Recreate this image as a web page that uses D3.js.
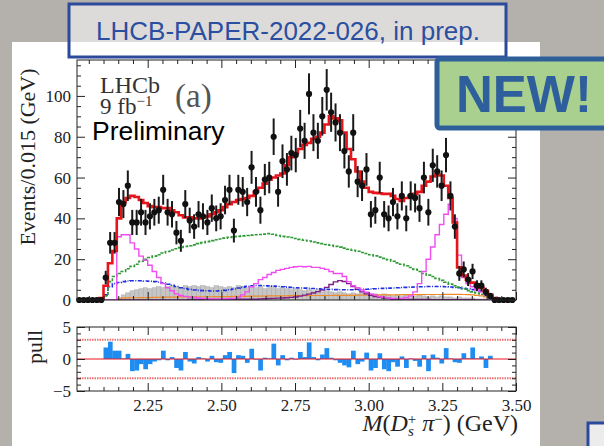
<!DOCTYPE html>
<html>
<head>
<meta charset="utf-8">
<script src="https://cdn.jsdelivr.net/npm/d3@7"></script>
<style>
  body { margin: 0; background: #b4b0ac; }
  svg { display: block; }
</style>
</head>
<body>
<svg id="chart" width="604" height="446"></svg>
<script>
// binning of M(Ds+ pi-) in GeV
const binLo = 2.01, binW = 0.015;

// events per bin
const counts = [
  0,0,0,0,0,0,11,28,28,48,
  47,56,38,38,43,38,41,43,44,54,
  43,42,33,29,47,39,36,42,41,38,
  45,40,41,49,54,34,54,53,48,65,
  53,44,59,60,80,53,68,64,72,71,
  84,78,101,82,78,90,103,92,87,82,
  73,63,82,58,56,64,42,44,60,42,
  40,48,41,51,40,51,50,45,60,43,
  66,63,56,71,51,36,13,15,10,14,
  7,7,4,2,0,0,0,0,0
];

// total fit (red)
const fitTotal = [
  0,0,0,0,0,1,7,18,24,40,
  48,50,51,50.5,49,47.5,46,45.5,45.5,45,
  45,44,43,41.5,40.5,40.5,40,40,40.5,41,
  42,43,44,45.5,47,48,49,49.5,50,51,
  53,55,57,59,60,61,62,66,70,72,
  74,76,77,79,80,82,86,90,89,88,
  82,74,69,63,58,55,53,52.5,52.3,52,
  52,51,49.5,48.5,50,51,52,53,56,58,
  60.5,61.5,61,56,50,38,16,12,10,8.5,
  7,6,4.5,2.5,1,0.3,0,0,0
];

// magenta component
const compMagenta = [
  0,0,0,0,0,0,0,0,0,31,
  32,32,28,25,21.5,19.5,17,14,11,8,
  6,4.5,3,2.2,1.8,1.5,1.2,1,0.8,0.6,
  0.5,0.5,0.5,0.6,0.7,0.8,1.3,2.5,4,6.5,
  8,10,11,12.5,13.5,14.5,15,15.5,16,16.3,
  16.5,16.3,16.5,16,16,15.5,15,14,13,13,
  11.5,9,7,6,4.9,3.8,3,2.5,1.6,1.3,
  1,0.8,0.8,0.8,1.2,2,4,8,14,20,
  26,32,37,42,47,40,22,11,8,6.5,
  5,4,2.5,1.2,0.3,0,0,0,0
];

// green dashed component
const compGreen = [
  0,0,0,0,0,0,2,9,11.5,13,
  14,15.3,16.5,17.5,19,20,20.8,21.5,22.2,23,
  23.8,24.5,25.1,25.7,26.2,26.6,27,27.6,28.1,28.6,
  29.1,29.5,29.9,30.3,30.7,31,31.2,31.4,31.6,31.8,
  32,32.1,32.3,32.5,32.2,31.6,31.2,30.9,30.6,30.1,
  29.7,29.3,28.9,28.4,28,27.6,27.2,26.8,26.3,25.9,
  25.4,24.9,24.4,23.9,23.3,22.8,22.2,21.6,21,20.4,
  19.8,19,18.2,17.5,16.8,15.9,15,14,13,12.2,
  11.5,10.5,9.6,8.7,7.8,7,6.3,5.4,4.6,4,
  3.4,2.8,2.2,1.4,0.6,0.1,0,0,0
];

// blue dash-dotted component
const compBlue = [
  0,0,0,0,0,0,2.5,6.5,8,8.6,
  9,9.3,9.4,9.4,9.4,9.3,9.2,9,8.7,8.3,
  7.7,7.2,6.6,6,5.6,5.2,4.9,4.7,4.6,4.5,
  4.4,4.4,4.5,4.7,5,5.4,5.9,6.3,6.7,7,
  7.1,7.1,7,6.9,6.8,6.6,6.5,6.3,6.2,6,
  5.9,5.8,5.7,5.6,5.5,5.4,5.3,5.2,5.1,5,
  5,5,5,5.1,5.2,5.3,5.4,5.5,5.6,5.7,
  5.8,5.9,6,6.1,6.2,6.3,6.4,6.5,6.5,6.6,
  6.6,6.6,6.6,6.5,6.4,6.2,6,5.7,5.4,5.1,
  4.7,4.2,3.4,2.4,1.2,0.3,0,0,0
];

// purple component
const compPurple = [
  0,0,0,0,0,0,0,0,0,0,
  0,0,0,0,0,0,0,0,0,0,
  0,0,0,0,0,0.3,0.3,0.3,0.3,0.3,
  0.3,0.3,0.3,0.3,0.3,0.3,0.4,0.4,0.4,0.4,
  0.4,0.5,0.6,0.7,0.8,0.9,1,1.1,1.3,1.5,
  1.9,2.4,2.9,3.4,4.1,4.9,6.2,7.6,8.9,9.5,
  9.1,8,6.6,5.2,4,3,2.3,1.7,1.3,1,
  0.7,0.4,0.3,0.3,0.3,0.3,0.3,0.3,0.3,0.3,
  0.2,0.2,0.2,0.2,0.2,0.2,0.2,0.2,0.2,0.2,
  0,0,0,0,0,0,0,0,0
];

// grey filled component
const compGrey = [
  0,0,0,0,0,0,0,0,0,1,
  2.5,3.5,4.5,5,5.5,6,5.5,6,6.5,6,
  6.5,7,6.5,6,7,6.5,7,6.5,7,6.5,
  6,7,6.5,6,6.5,6,7,6.5,6,6.5,
  6,6.5,5.5,6,6.5,5.5,6,5.5,5,5.5,
  5,4.5,5,4.5,5,4,4.5,4,3.5,4,
  3.5,3,3.5,3,3.5,3,2.5,3,2.5,3,
  2.5,2,2.5,2,2.5,2,2,2.5,2,1.5,
  2,1.5,2,1.5,1.5,1,1.5,1,1,1,
  0.5,0.5,0.5,0.2,0,0,0,0,0
];

// orange component
const compOrange = [
  0,0,0,0,0,0,0,0,0,0.5,
  1,1,1.1,1.1,1.2,1.2,1.2,1.3,1.3,1.3,
  1.4,1.4,1.4,1.5,1.5,1.5,1.5,1.6,1.6,1.6,
  1.6,1.7,1.7,1.7,1.7,1.8,1.8,1.8,1.8,1.9,
  1.9,1.9,1.9,2,2,2,2,2,2.1,2.1,
  2.1,2.1,2.1,2.2,2.2,2.2,2.2,2.2,2.3,2.3,
  2.3,2.3,2.3,2.4,2.4,2.4,2.4,2.4,2.5,2.5,
  2.5,2.5,2.5,2.6,2.6,2.6,2.6,2.6,2.7,2.7,
  2.7,2.7,2.7,2.8,2.8,2.8,2.8,2.7,2.6,2.5,
  2.3,2,1.5,0.9,0.4,0.1,0,0,0
];

// pull per bin
const pulls = [
  0,0,0,0,0,0,1.8,2.7,1.3,1.3,
  0.1,0.8,-1.9,-1.8,-0.8,-1.6,-0.8,-0.4,-0.2,1.3,
  -0.2,0.3,-1.4,-1.8,1.1,-0.4,-0.7,0.3,0.1,-0.4,
  0.5,-0.5,-0.6,0.6,1.1,-2.2,0.6,0.5,-0.6,1.6,
  -0.1,-1.8,0.2,0.1,2.4,-1.0,0.6,-0.2,0.2,-0.1,
  1.1,0.3,2.6,0.3,-0.2,0.7,1.7,0.2,-0.2,-0.6,
  -1.0,-1.3,1.3,-0.8,-0.4,1.0,-1.8,-1.4,0.9,-1.6,
  -1.9,-0.5,-1.2,0.4,-1.4,0.1,-0.3,-1.2,0.6,-1.9,
  0.7,0.2,-0.7,1.7,0.1,-0.5,-0.6,0.9,0.1,1.8,
  0.1,0.4,-1.4,0.5,0,0,0,0,0
];

const xTickValues = [2.25, 2.5, 2.75, 3.0, 3.25, 3.5];
const yTickValues = [0, 20, 40, 60, 80, 100];
const pullTickValues = [-5, 0, 5];

const svg = d3.select("#chart");
svg.append("rect").attr("width", 604).attr("height", 446).attr("fill", "#b4b0ac");
svg.append("rect").attr("x", 12).attr("y", 42).attr("width", 528).attr("height", 404).attr("fill", "#fff");

const x = d3.scaleLinear().domain([binLo, 3.5]).range([77, 516]);
const y = d3.scaleLinear().domain([0, 117.6]).range([300, 60]);
const yp = d3.scaleLinear().domain([-5, 5]).range([391, 327]);

const bins = counts.map((c, i) => ({
  i: i,
  lo: binLo + i * binW,
  hi: binLo + (i + 1) * binW,
  mid: binLo + (i + 0.5) * binW
}));

svg.append("clipPath").attr("id", "clipMain")
  .append("rect").attr("x", 77).attr("y", 60).attr("width", 439).attr("height", 240);

const plot = svg.append("g").attr("clip-path", "url(#clipMain)");

function stepPath(vals) {
  var pts = [];
  vals.forEach(function(v, i) {
    pts.push([x(bins[i].lo), y(v)]);
    pts.push([x(bins[i].hi), y(v)]);
  });
  return d3.line()(pts);
}

// grey filled histogram
plot.selectAll("rect.grey")
  .data(bins.filter(b => compGrey[b.i] > 0))
  .enter().append("rect")
    .attr("class", "grey")
    .attr("x", d => x(d.lo))
    .attr("width", d => x(d.hi) - x(d.lo))
    .attr("y", d => y(compGrey[d.i]))
    .attr("height", d => y(0) - y(compGrey[d.i]))
    .attr("fill", "#c6c6c6")
    .attr("stroke", "#a8a8a8")
    .attr("stroke-width", 0.5);

plot.append("path").attr("d", stepPath(compOrange))
  .attr("fill", "none").attr("stroke", "#ee8a2a").attr("stroke-width", 1.2);
plot.append("path").attr("d", stepPath(compPurple))
  .attr("fill", "none").attr("stroke", "#7d1f86").attr("stroke-width", 1.4);
plot.append("path").attr("d", stepPath(compBlue))
  .attr("fill", "none").attr("stroke", "#1f2fe0").attr("stroke-width", 1.6)
  .attr("stroke-dasharray", "4,1.5,1,1.5");
plot.append("path").attr("d", stepPath(compGreen))
  .attr("fill", "none").attr("stroke", "#2e9a35").attr("stroke-width", 1.6)
  .attr("stroke-dasharray", "3,1.5");
plot.append("path").attr("d", stepPath(compMagenta))
  .attr("fill", "none").attr("stroke", "#f04cf0").attr("stroke-width", 1.4);
plot.append("path").attr("d", stepPath(fitTotal))
  .attr("fill", "none").attr("stroke", "#e8141c").attr("stroke-width", 2.6);

// data points with sqrt(N) error bars
const pts = svg.append("g");
pts.selectAll("line.err")
  .data(bins.filter(b => counts[b.i] > 0))
  .enter().append("line")
    .attr("x1", d => x(d.mid)).attr("x2", d => x(d.mid))
    .attr("y1", d => y(counts[d.i] - Math.sqrt(counts[d.i])))
    .attr("y2", d => y(counts[d.i] + Math.sqrt(counts[d.i])))
    .attr("stroke", "#1a1a1a").attr("stroke-width", 2);
pts.selectAll("circle")
  .data(bins)
  .enter().append("circle")
    .attr("cx", d => x(d.mid))
    .attr("cy", d => y(counts[d.i]))
    .attr("r", 3.1)
    .attr("fill", "#111");

// pull panel
svg.append("line").attr("x1", 77).attr("x2", 516).attr("y1", yp(3)).attr("y2", yp(3))
  .attr("stroke", "#ee7070").attr("stroke-width", 2).attr("stroke-dasharray", "1.5,1");
svg.append("line").attr("x1", 77).attr("x2", 516).attr("y1", yp(-3)).attr("y2", yp(-3))
  .attr("stroke", "#ee7070").attr("stroke-width", 2).attr("stroke-dasharray", "1.5,1");

svg.append("g").selectAll("rect")
  .data(bins.filter(b => pulls[b.i] !== 0))
  .enter().append("rect")
    .attr("x", d => x(d.lo))
    .attr("width", d => x(d.hi) - x(d.lo) + 0.3)
    .attr("y", d => Math.min(yp(pulls[d.i]), yp(0)))
    .attr("height", d => Math.abs(yp(pulls[d.i]) - yp(0)))
    .attr("fill", "#1e8cf0");

svg.append("line").attr("x1", 77).attr("x2", 516).attr("y1", yp(0)).attr("y2", yp(0))
  .attr("stroke", "#e8141c").attr("stroke-width", 1.2);

// axes / ticks
const xMinor = d3.range(41).map(i => 2.05 + i * 0.05).filter(v => v < 3.499 && xTickValues.indexOf(+v.toFixed(2)) < 0);
const yMinor = d3.range(0, 118, 5).filter(v => v % 20 !== 0);
const pMinor = d3.range(-4, 5).filter(v => v !== 0);

function styleAxis(g) {
  g.select(".domain").remove();
  g.selectAll("line").attr("stroke", "#222");
  g.selectAll("text")
    .attr("font-family", "Liberation Serif")
    .attr("font-size", 17)
    .attr("fill", "#222");
}

function frameTicks(ys, yTop, yBot, majorY, minorY, labelX) {
  svg.append("g").attr("transform", "translate(0," + yBot + ")")
    .call(d3.axisBottom(x).tickValues(xMinor).tickSize(-4).tickFormat("")).call(styleAxis);
  svg.append("g").attr("transform", "translate(0," + yBot + ")")
    .call(d3.axisBottom(x).tickValues(xTickValues).tickSize(-8).tickPadding(8)
      .tickFormat(labelX ? d3.format(".2f") : ""))
    .call(styleAxis);
  svg.append("g").attr("transform", "translate(0," + yTop + ")")
    .call(d3.axisTop(x).tickValues(xMinor).tickSize(-4).tickFormat("")).call(styleAxis);
  svg.append("g").attr("transform", "translate(0," + yTop + ")")
    .call(d3.axisTop(x).tickValues(xTickValues).tickSize(-8).tickFormat("")).call(styleAxis);

  svg.append("g").attr("transform", "translate(77,0)")
    .call(d3.axisLeft(ys).tickValues(minorY).tickSize(-4).tickFormat("")).call(styleAxis);
  svg.append("g").attr("transform", "translate(77,0)")
    .call(d3.axisLeft(ys).tickValues(majorY).tickSize(-8).tickPadding(6).tickFormat(d3.format("d")))
    .call(styleAxis);
  svg.append("g").attr("transform", "translate(516,0)")
    .call(d3.axisRight(ys).tickValues(minorY).tickSize(-4).tickFormat("")).call(styleAxis);
  svg.append("g").attr("transform", "translate(516,0)")
    .call(d3.axisRight(ys).tickValues(majorY).tickSize(-8).tickFormat("")).call(styleAxis);

  svg.append("rect").attr("x", 77).attr("y", yTop).attr("width", 439).attr("height", yBot - yTop)
    .attr("fill", "none").attr("stroke", "#222").attr("stroke-width", 1);
}

frameTicks(y, 60, 300, yTickValues, yMinor, false);
frameTicks(yp, 327, 391, pullTickValues, pMinor, true);

// axis titles
const serif = "Liberation Serif";
svg.append("text")
  .attr("transform", "translate(35,157) rotate(-90)")
  .attr("text-anchor", "middle")
  .attr("font-family", serif).attr("font-size", 22).attr("fill", "#222")
  .text("Events/0.015 (GeV)");
svg.append("text")
  .attr("transform", "translate(42,347) rotate(-90)")
  .attr("text-anchor", "middle")
  .attr("font-family", serif).attr("font-size", 22).attr("fill", "#222")
  .text("pull");

const xt = svg.append("text")
  .attr("x", 518).attr("y", 431)
  .attr("text-anchor", "end")
  .attr("font-family", serif).attr("font-size", 24).attr("fill", "#222");
xt.append("tspan").attr("font-style", "italic").text("M");
xt.append("tspan").text("(");
xt.append("tspan").attr("font-style", "italic").text("D");
xt.append("tspan").attr("font-style", "italic").attr("font-size", 15).attr("dy", 5).text("s");
xt.append("tspan").attr("font-size", 15).attr("dx", -6).attr("dy", -12).text("+");
xt.append("tspan").attr("dy", 7).text(" ");
xt.append("tspan").attr("font-style", "italic").text("π");
xt.append("tspan").attr("font-size", 15).attr("dy", -7).text("−");
xt.append("tspan").attr("dy", 7).text(") (GeV)");

// plot legend text
svg.append("text").attr("x", 100).attr("y", 93)
  .attr("font-family", serif).attr("font-size", 24).attr("fill", "#333").text("LHCb");
const lum = svg.append("text").attr("x", 100).attr("y", 114)
  .attr("font-family", serif).attr("font-size", 23).attr("fill", "#333");
lum.append("tspan").text("9 fb");
lum.append("tspan").attr("font-size", 15).attr("dy", -8).text("−1");
svg.append("text").attr("x", 175).attr("y", 107)
  .attr("font-family", serif).attr("font-size", 33).attr("fill", "#555").text("(a)");
svg.append("text").attr("x", 92).attr("y", 140)
  .attr("font-family", "Liberation Sans").attr("font-size", 26.5).attr("fill", "#000").text("Preliminary");

// slide overlays
svg.append("rect").attr("x", 69).attr("y", 4).attr("width", 437).attr("height", 53)
  .attr("fill", "rgba(255,255,255,0.55)").attr("stroke", "#2b4a9b").attr("stroke-width", 3);
svg.append("text").attr("x", 288).attr("y", 40).attr("text-anchor", "middle")
  .attr("font-family", "Liberation Sans").attr("font-size", 26).attr("fill", "#2b4fa0")
  .text("LHCB-PAPER-2022-026, in prep.");

svg.append("rect").attr("x", 437).attr("y", 59).attr("width", 180).attr("height", 69).attr("rx", 3)
  .attr("fill", "#a9d08e").attr("stroke", "#2f5f99").attr("stroke-width", 5);
svg.append("text").attr("x", 456).attr("y", 112)
  .attr("font-family", "Liberation Sans").attr("font-weight", "bold").attr("font-size", 51)
  .attr("fill", "#2e5e9b").text("NEW!");

svg.append("rect").attr("x", 588).attr("y", 423).attr("width", 40).attr("height", 40)
  .attr("fill", "#ececec").attr("stroke", "#2b4a9b").attr("stroke-width", 3);
</script>
</body>
</html>
